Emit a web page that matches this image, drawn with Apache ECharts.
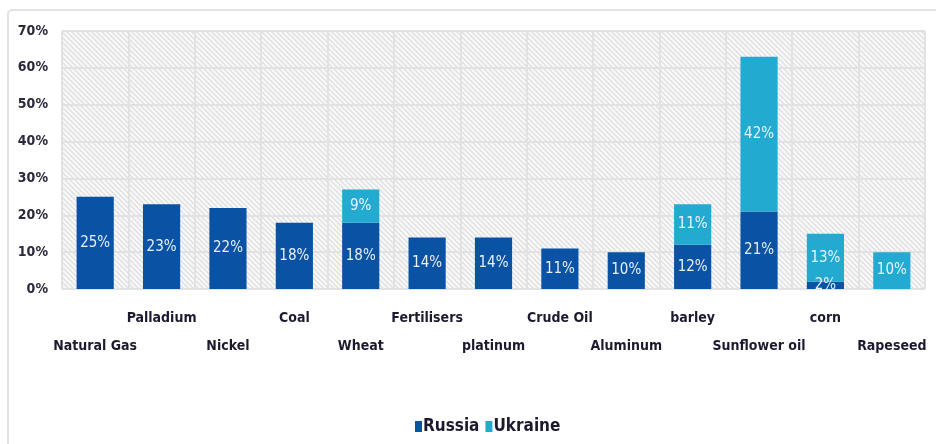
<!DOCTYPE html>
<html>
<head>
<meta charset="utf-8">
<script src="https://cdn.jsdelivr.net/npm/echarts@6/dist/echarts.min.js"></script>
<style>
html, body { margin: 0; padding: 0; background: #fff; }
#chart { width: 936px; height: 444px; }
</style>
</head>
<body>
<div id="chart"></div>
<script>
var categories = ['Natural Gas', 'Palladium', 'Nickel', 'Coal', 'Wheat', 'Fertilisers', 'platinum',
    'Crude Oil', 'Aluminum', 'barley', 'Sunflower oil', 'corn', 'Rapeseed'];
var russia = [25, 23, 22, 18, 18, 14, 14, 11, 10, 12, 21, 2, 0];
var ukraine = [0, 0, 0, 0, 9, 0, 0, 0, 0, 11, 42, 13, 10];
var yTicks = [0, 10, 20, 30, 40, 50, 60, 70];

var FONT = '"DejaVu Sans Condensed", "Liberation Sans Narrow", sans-serif';

// hatched background for the plot area
function hatch() {
    var c = document.createElement('canvas');
    c.width = 5; c.height = 5;
    var g = c.getContext('2d');
    g.fillStyle = '#f7f7f7';
    g.fillRect(0, 0, 5, 5);
    g.strokeStyle = '#dcdcdc';
    g.lineWidth = 1.1;
    g.beginPath();
    g.moveTo(-1, -1); g.lineTo(6, 6);
    g.moveTo(-1, 4); g.lineTo(1, 6);
    g.moveTo(4, -1); g.lineTo(6, 1);
    g.stroke();
    return c;
}

function barLabel(p) {
    return p.value > 0 ? p.value + '%' : '';
}

var myChart = echarts.init(document.getElementById('chart'));

option = {
    animation: false,
    graphic: [{
        type: 'rect',
        shape: { x: 8, y: 10, width: 940, height: 450, r: 4 },
        style: { fill: 'none', stroke: '#e3e3e3', lineWidth: 2 },
        z: -10
    }],
    grid: {
        left: 62, right: 11, top: 31, bottom: 155,
        show: true,
        borderWidth: 0,
        backgroundColor: { image: hatch(), repeat: 'repeat' }
    },
    legend: {
        bottom: 4,
        left: 410,
        data: ['Russia', 'Ukraine'],
        icon: 'rect',
        itemWidth: 7,
        itemHeight: 11,
        itemGap: 6,
        textStyle: { fontFamily: FONT, fontSize: 17, fontWeight: 'bold', color: '#1c1a2e', padding: [0, 0, 0, -4] }
    },
    xAxis: {
        type: 'category',
        data: categories,
        axisTick: { show: false },
        axisLine: { show: false },
        splitLine: { show: true, lineStyle: { color: '#e2e2e2', width: 2 } },
        axisLabel: {
            interval: 0,
            margin: 15,
            fontFamily: FONT,
            fontSize: 14,
            fontWeight: 'bold',
            lineHeight: 28,
            color: '#1c1a2e',
            formatter: function (v, i) {
                return i % 2 === 0 ? '\n' + v : v;
            }
        }
    },
    yAxis: {
        type: 'value',
        min: 0,
        max: 70,
        interval: 10,
        axisLine: { show: false },
        axisTick: { show: false },
        splitLine: { lineStyle: { color: '#e2e2e2', width: 2 } },
        axisLabel: {
            margin: 14,
            fontFamily: FONT,
            fontSize: 14,
            fontWeight: 'bold',
            color: '#2a2a3c',
            formatter: function (v) { return yTicks.indexOf(v) >= 0 ? v + '%' : ''; }
        }
    },
    series: [
        {
            name: 'Russia',
            type: 'bar',
            stack: 'total',
            barWidth: '56%',
            data: russia,
            itemStyle: { color: '#0a52a3' },
            label: {
                show: true,
                position: 'inside',
                formatter: barLabel,
                fontFamily: FONT,
                fontSize: 15,
                color: '#e8f0fa'
            }
        },
        {
            name: 'Ukraine',
            type: 'bar',
            stack: 'total',
            barWidth: '56%',
            data: ukraine,
            itemStyle: { color: '#22aad1' },
            label: {
                show: true,
                position: 'inside',
                formatter: barLabel,
                fontFamily: FONT,
                fontSize: 15,
                color: '#e8f6fb'
            }
        }
    ]
};

myChart.setOption(option);
</script>
</body>
</html>
